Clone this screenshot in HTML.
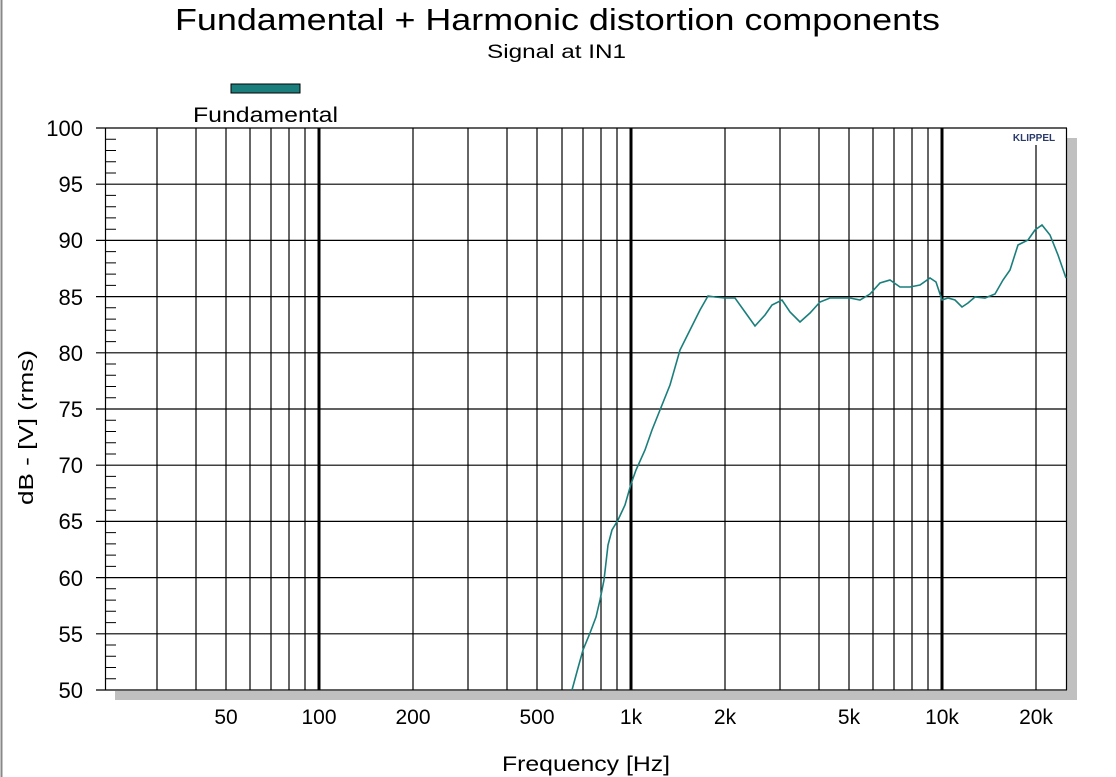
<!DOCTYPE html>
<html><head><meta charset="utf-8"><style>
body{margin:0;background:#fff;}
svg{display:block;font-family:"Liberation Sans",sans-serif;}
</style></head><body>
<svg width="1116" height="777" viewBox="0 0 1116 777">
<rect width="1116" height="777" fill="#fff"/>
<line x1="1.5" y1="0" x2="1.5" y2="777" stroke="#888" stroke-width="2"/>
<text x="175" y="30" font-size="31" textLength="765" lengthAdjust="spacingAndGlyphs">Fundamental + Harmonic distortion components</text>
<text x="487" y="58" font-size="19" textLength="139" lengthAdjust="spacingAndGlyphs">Signal at IN1</text>
<rect x="231" y="84" width="69" height="9" fill="#1a7f7c" stroke="#000" stroke-width="1"/>
<text x="193" y="122" font-size="21" textLength="145" lengthAdjust="spacingAndGlyphs">Fundamental</text>
<rect x="1067" y="138" width="10" height="562" fill="#c0c0c0"/>
<rect x="115" y="691" width="962" height="9" fill="#c0c0c0"/>
<g stroke="#000" stroke-width="1.2">
<line x1="157" y1="128" x2="157" y2="690"/><line x1="196" y1="128" x2="196" y2="690"/><line x1="226" y1="128" x2="226" y2="690"/><line x1="250" y1="128" x2="250" y2="690"/><line x1="271" y1="128" x2="271" y2="690"/><line x1="289" y1="128" x2="289" y2="690"/><line x1="305" y1="128" x2="305" y2="690"/>
<line x1="413" y1="128" x2="413" y2="690"/><line x1="468" y1="128" x2="468" y2="690"/><line x1="507" y1="128" x2="507" y2="690"/><line x1="537" y1="128" x2="537" y2="690"/><line x1="562" y1="128" x2="562" y2="690"/><line x1="583" y1="128" x2="583" y2="690"/><line x1="601" y1="128" x2="601" y2="690"/><line x1="617" y1="128" x2="617" y2="690"/>
<line x1="725" y1="128" x2="725" y2="690"/><line x1="780" y1="128" x2="780" y2="690"/><line x1="819" y1="128" x2="819" y2="690"/><line x1="849" y1="128" x2="849" y2="690"/><line x1="873" y1="128" x2="873" y2="690"/><line x1="894" y1="128" x2="894" y2="690"/><line x1="912" y1="128" x2="912" y2="690"/><line x1="928" y1="128" x2="928" y2="690"/>
<line x1="1036" y1="145" x2="1036" y2="690"/>
<line x1="96" y1="128" x2="1067" y2="128"/><line x1="96" y1="184.2" x2="1067" y2="184.2"/><line x1="96" y1="240.4" x2="1067" y2="240.4"/><line x1="96" y1="296.6" x2="1067" y2="296.6"/><line x1="96" y1="352.8" x2="1067" y2="352.8"/><line x1="96" y1="409" x2="1067" y2="409"/><line x1="96" y1="465.2" x2="1067" y2="465.2"/><line x1="96" y1="521.4" x2="1067" y2="521.4"/><line x1="96" y1="577.6" x2="1067" y2="577.6"/><line x1="96" y1="633.8" x2="1067" y2="633.8"/><line x1="96" y1="690" x2="1067" y2="690"/>
<line x1="105.5" y1="128" x2="105.5" y2="690"/><line x1="1066.5" y1="128" x2="1066.5" y2="690"/>
</g>
<g stroke="#000" stroke-width="3">
<line x1="319" y1="128" x2="319" y2="690"/><line x1="631" y1="128" x2="631" y2="690"/><line x1="942" y1="128" x2="942" y2="690"/>
</g>
<g stroke="#000" stroke-width="1">
<path d="M105 139.2h11M105 150.5h11M105 161.7h11M105 173h11
M105 195.4h11M105 206.7h11M105 217.9h11M105 229.2h11
M105 251.6h11M105 262.9h11M105 274.1h11M105 285.4h11
M105 307.8h11M105 319.1h11M105 330.3h11M105 341.6h11
M105 364h11M105 375.3h11M105 386.5h11M105 397.8h11
M105 420.2h11M105 431.5h11M105 442.7h11M105 454h11
M105 476.4h11M105 487.7h11M105 498.9h11M105 510.2h11
M105 532.6h11M105 543.9h11M105 555.1h11M105 566.4h11
M105 588.8h11M105 600.1h11M105 611.3h11M105 622.6h11
M105 645h11M105 656.3h11M105 667.5h11M105 678.8h11"/>
</g>
<text x="1034" y="141" font-size="10" font-weight="bold" fill="#2a3a6a" text-anchor="middle">KLIPPEL</text>
<g font-size="22" text-anchor="end">
<text x="83" y="136">100</text><text x="83" y="192">95</text><text x="83" y="248">90</text><text x="83" y="305">85</text><text x="83" y="361">80</text><text x="83" y="417">75</text><text x="83" y="473">70</text><text x="83" y="529">65</text><text x="83" y="586">60</text><text x="83" y="642">55</text><text x="83" y="698">50</text>
</g>
<g font-size="21" text-anchor="middle">
<text x="226" y="724">50</text><text x="319" y="724">100</text><text x="413" y="724">200</text><text x="537" y="724">500</text><text x="631" y="724">1k</text><text x="725" y="724">2k</text><text x="849" y="724">5k</text><text x="942" y="724">10k</text><text x="1036" y="724">20k</text>
</g>
<text x="502" y="771" font-size="21" textLength="168" lengthAdjust="spacingAndGlyphs">Frequency [Hz]</text>
<text transform="translate(33,505) rotate(-90)" font-size="20" textLength="155" lengthAdjust="spacingAndGlyphs">dB - [V]  (rms)</text>
<polyline fill="none" stroke="#1a7f7c" stroke-width="1.6" points="572,690 578,668 583,650 590,633 596,617 600,600 604,580 608,545 612,530 618,520 625,505 631,484 636,470 645,450 652,430 660,410 670,385 680,350 690,330 700,310 708,296 715,297 725,298 735,298 745,312 755,326 765,315 772,305 782,300 790,312 800,322 810,313 820,302 830,298 840,298 850,298 860,300 870,294 880,283 890,280 900,287 910,287 920,285 930,278 936,282 942,300 948,298 955,300 962,307 968,303 975,297 985,298 995,294 1003,280 1010,270 1018,245 1028,240 1035,230 1042,225 1050,235 1058,255 1066,278"/>
</svg>
</body></html>
